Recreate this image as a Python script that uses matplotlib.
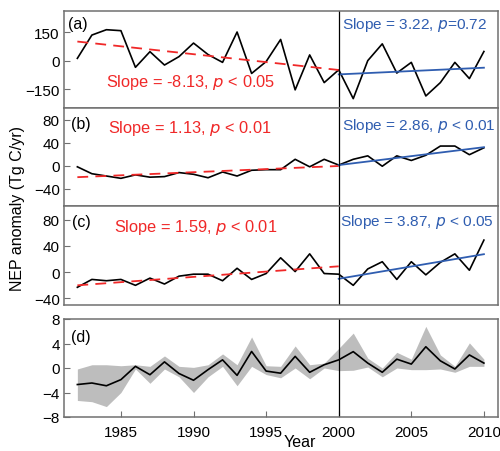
import matplotlib
matplotlib.use("Agg")
import matplotlib.pyplot as plt

plt.rcParams["font.family"] = ["Liberation Sans", "DejaVu Sans"]
plt.rcParams["font.size"] = 11

# ---------------------------------------------------------------------------
# data
# ---------------------------------------------------------------------------
years = list(range(1982, 2011))

nep_a = [12, 134, 162, 157, -35, 47, -23, 21, 92, 32, -9, 150, -67, -5, 111,
         -153, 30, -115, -48, -199, 0, 88, -65, -9, -185, -115, -9, -94, 48]
nep_b = [-2, -14, -18, -22, -16, -20, -19, -12, -15, -21, -11, -18, -8, -7, -7,
         11, -2, 11, 1, 11, 17, -1, 17, 9, 18, 34, 34, 19, 31]
nep_c = [-23, -11, -13, -11, -20, -9, -18, -6, -3, -3, -13, 6, -11, -2, 22,
         1, 28, -2, -3, -20, 5, 16, -11, 16, -4, 15, 28, 3, 49]

nep_d = [-2.7, -2.45, -2.9, -1.9, 0.27, -1.1, 1.0, -0.9, -2.0, -0.27, 1.33,
         -1.2, 2.7, -0.5, -0.85, 1.9, -0.7, 0.53, 1.33, 2.67, 0.8, -0.7, 1.44,
         0.64, 3.47, 1.17, -0.16, 2.13, 0.8]
d_upper = [-0.16, 0.53, 0.53, 0.37, 0.53, 0.27, 1.97, 0.27, 0.1, 0.53, 2.3,
           0.53, 5.07, 0.37, 0.27, 3.6, 0.53, 0.8, 3.2, 5.7, 1.6, 0.0, 2.56,
           1.44, 6.8, 2.13, 0.27, 4.1, 1.44]
d_lower = [-5.3, -5.5, -6.3, -4.0, -0.16, -2.5, -0.16, -1.44, -4.0, -1.44, 0.27,
           -2.9, 0.27, -1.07, -1.6, 0.0, -1.76, 0.0, -0.43, -0.37, 0.16, -1.44,
           0.0, -0.27, -0.27, -0.16, -0.7, 0.27, 0.27]

# trend lines (start/end values) for 1982-2000 and 2000-2010
early_years = [1982, 2000]
late_years = [2000, 2010]
trend_early = {"a": [100, -49], "b": [-20, -0.6], "c": [-20, 9]}
trend_late = {"a": [-72, -37], "b": [1, 32], "c": [-10, 27.5]}

slope_early = {"a": ("-8.13", "< 0.05"), "b": ("1.13", "< 0.01"), "c": ("1.59", "< 0.01")}
slope_late = {"a": ("3.22", "=0.72"), "b": ("2.86", "< 0.01"), "c": ("3.87", "< 0.05")}

ylims = {"a": (-248, 260), "b": (-70, 100), "c": (-50, 101)}
yticks = {"a": [150, 0, -150], "b": [80, 40, 0, -40], "c": [80, 40, 0, -40]}

RED = "#f02828"
BLUE = "#2f5db0"
SPINE = "#707070"

# ---------------------------------------------------------------------------
fig = plt.figure(figsize=(5, 4.52), dpi=100)
W, H = 500, 452
left, right = 64, 498


def make_ax(top, bottom):
    return fig.add_axes([left / W, 1 - bottom / H, (right - left) / W, (bottom - top) / H])


panel_px = {"a": (12, 109), "b": (109, 207), "c": (207, 306)}
txt_pos = {
    "a": ((0.009, 0.866), (0.097, 0.278), (0.640, 0.866)),
    "b": ((0.015, 0.837), (0.101, 0.796), (0.641, 0.827)),
    "c": ((0.018, 0.841), (0.115, 0.788), (0.635, 0.852)),
}
series = {"a": nep_a, "b": nep_b, "c": nep_c}


def style(ax):
    for s in ax.spines.values():
        s.set_color(SPINE)
        s.set_linewidth(1.1)
    ax.tick_params(direction="in", length=4, color=SPINE, pad=3)
    ax.set_xlim(1981.08, 2010.97)


for key in ["a", "b", "c"]:
    top, bottom = panel_px[key]
    ax = make_ax(top, bottom)
    style(ax)
    ax.plot(years, series[key], color="black", lw=1.2)
    ax.plot(early_years, trend_early[key], color=RED, lw=1.3, ls=(0, (6, 4)))
    ax.plot(late_years, trend_late[key], color=BLUE, lw=1.3)
    ax.axvline(2000, color="black", lw=0.9)
    ax.set_ylim(*ylims[key])
    ax.set_yticks(yticks[key])
    ax.set_xticks([])
    p_lab, p_red, p_blue = txt_pos[key]
    ax.text(p_lab[0], p_lab[1], "(%s)" % key, transform=ax.transAxes,
            ha="left", va="center", fontsize=11.5)
    s, p = slope_early[key]
    ax.text(p_red[0], p_red[1], "Slope = %s, $\\it{p}$ %s" % (s, p),
            transform=ax.transAxes, ha="left", va="center", color=RED, fontsize=11.8)
    s, p = slope_late[key]
    ax.text(p_blue[0], p_blue[1], "Slope = %s, $\\it{p}$%s" % (s, p if p.startswith("=") else " " + p),
            transform=ax.transAxes, ha="left", va="center", color=BLUE, fontsize=11.1)

# panel (d)
axd = make_ax(320, 418)
style(axd)
axd.fill_between(years, d_lower, d_upper, color="#bdbdbd", lw=0)
axd.plot(years, nep_d, color="black", lw=1.2)
axd.axvline(2000, color="black", lw=0.9)
axd.set_ylim(-8, 8)
axd.set_yticks([8, 4, 0, -4, -8])
axd.set_xticks([1985, 1990, 1995, 2000, 2005, 2010])
axd.tick_params(axis="x", pad=6)
axd.text(0.015, 0.82, "(d)", transform=axd.transAxes, ha="left", va="center", fontsize=11.5)

fig.text(0.036, 0.538, "NEP anomaly (Tg C/yr)", rotation=90, ha="center", va="center", fontsize=11.5)
fig.text(0.6, 0.02, "Year", ha="center", va="center", fontsize=11.5)

fig.savefig("out.png", dpi=100)
